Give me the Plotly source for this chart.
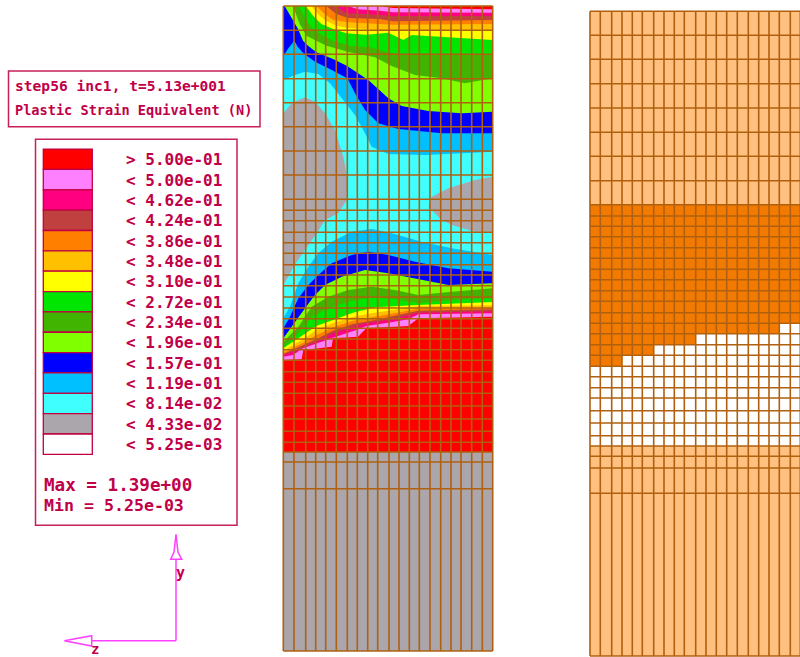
import plotly.graph_objects as go

# ---------- legend ----------
LEGEND_LABELS = ["> 5.00e-01", "< 5.00e-01", "< 4.62e-01", "< 4.24e-01", "< 3.86e-01",
                 "< 3.48e-01", "< 3.10e-01", "< 2.72e-01", "< 2.34e-01", "< 1.96e-01",
                 "< 1.57e-01", "< 1.19e-01", "< 8.14e-02", "< 4.33e-02", "< 5.25e-03"]
RED, PINK, HOT, BROWN, ORANGE, AMBER, YELLOW, GREEN, DGREEN, LIME, BLUE, SKY, CYAN, GRAY, WHITE = (
    "#ff0000", "#ff80ff", "#ff0080", "#c04040", "#ff8000", "#ffc000", "#ffff00", "#00e600",
    "#40b400", "#80ff00", "#0000ff", "#00c0ff", "#40ffff", "#aaa6ab", "#ffffff")
LEGEND_COLORS = [RED, PINK, HOT, BROWN, ORANGE, AMBER, YELLOW, GREEN, DGREEN, LIME, BLUE, SKY, CYAN, GRAY, WHITE]
TITLE_LINES = ["step56 inc1, t=5.13e+001", "Plastic Strain Equivalent (N)"]
MAX_MIN = ["Max = 1.39e+00", "Min = 5.25e-03"]
TEXT = "#c00048"
BOX = "#c8205a"
MESH = "#b0600f"
MAGENTA = "#ff40ff"

# ---------- meshes ----------
MID_X = [283.3, 294, 305.7, 315.7, 325.7, 336.3, 347.3, 357.3, 367.7, 377.7, 389, 399, 409.3, 419.3, 430,
         440.7, 451, 461, 471.7, 482.3, 492.7]
MID_Y = [6, 30.3, 54.3, 78.7, 102.7, 126.7, 151, 175, 199.3, 210.3, 220.7, 232.3, 242.7, 253.3, 264.7, 275,
         285.7, 297, 308, 318.7, 328.3, 339, 349.7, 360.3, 371.7, 382.3, 393.3, 406, 419, 431.3, 442.3, 452,
         462, 488.7, 651]
RIGHT_X = [590, 600.3, 611.7, 622, 632.3, 642.3, 653.7, 664, 674.3, 684.3, 695.7, 706, 716.3, 726.7, 737.3,
           748.3, 758.7, 769, 779.3, 790.3, 800.3]
RIGHT_Y = [11.3, 35.3, 59.3, 83.7, 108, 132.3, 156.3, 180.7, 204.7, 216, 226.3, 236.7, 247.7, 258.3, 269.3,
           279.7, 290.7, 301.3, 312.7, 323.3, 333.7, 344.7, 355.3, 366.3, 376.7, 387.7, 398, 410.7, 423, 435.7,
           446, 456.3, 468, 493.3, 656]
# right mesh: lower edge of the dark zone, as a stair outline
STAIR_X = [590, 622, 622, 653.7, 653.7, 695.7, 695.7, 779.3, 779.3, 800.3]
STAIR_Y = [366.3, 366.3, 355.3, 355.3, 344.7, 344.7, 333.7, 333.7, 323.3, 323.3]
LIGHT_ORANGE, DARK_ORANGE = "#ffc080", "#f27a00"

# ---------- contour boundaries of the middle mesh, read off two crops ----------
# upper part (crop 1): x_px = 275 + x/3, y_px = y/3
TOP_BANDS = [
    (SKY,    [(25,240),(60,225),(90,215),(130,222),(165,250),(210,305),(240,345),(270,400),(290,440),(340,462),(450,465),(653,455)]),
    (BLUE,   [(25,168),(40,145),(58,122),(68,140),(85,160),(120,185),(160,205),(217,235),(240,280),(270,330),(310,370),(370,387),(500,400),(653,400)]),
    (LIME,   [(29,18),(49,52),(69,87),(84,122),(99,137),(124,157),(174,177),(215,197),(280,240),(340,295),(380,318),(460,333),(560,340),(653,335)]),
    (DGREEN, [(54,18),(74,72),(94,107),(124,122),(154,137),(224,157),(300,172),(350,198),(420,225),(500,235),(570,250),(653,235)]),
    (GREEN,  [(72,18),(94,62),(114,87),(144,107),(174,122),(224,137),(284,142),(350,160),(450,165),(653,165)]),
    (YELLOW, [(92,18),(114,47),(139,72),(174,87),(214,100),(274,104),(340,98),(385,120),(410,105),(653,120)]),
    (AMBER,  [(109,18),(129,42),(149,60),(184,77),(219,84),(354,92),(653,92)]),
    (ORANGE, [(124,18),(149,42),(174,60),(219,67),(354,74),(653,72)]),
    (BROWN,  [(154,18),(184,42),(219,54),(314,57),(354,64),(653,60)]),
    (HOT,    [(184,18),(214,40),(274,42),(354,48),(653,48)]),
    (PINK,   [(219,18),(249,28),(314,32),(354,37),(653,38)]),
    (RED,    [(314,18),(354,24),(653,28)]),
]
GRAY_LEFT = [(25,340),(50,310),(90,292),(120,305),(150,340),(180,390),(205,470),(218,540),(215,600),(190,640),(150,660),
             (125,700),(90,750),(55,800),(40,830),(25,855)]
GRAY_RIGHT = [(653,530),(600,540),(520,565),(470,590),(460,620),(500,660),(530,675),(600,695),(653,695)]

# lower part (crop 2): x_px = 275 + x/3, y_px = 220 + y/3
LOW_BANDS = [
    (SKY,    [(25,295),(45,260),(70,190),(100,140),(130,100),(170,65),(230,35),(290,27),(350,40),(440,65),(530,85),(653,105)]),
    (BLUE,   [(25,325),(45,290),(70,235),(100,195),(130,165),(170,130),(230,105),(280,95),(340,105),(420,125),(520,145),(653,155)]),
    (LIME,   [(25,355),(60,305),(90,265),(120,225),(150,195),(200,170),(270,150),(340,160),(430,178),(520,195),(653,190)]),
    (DGREEN, [(25,365),(70,320),(110,260),(160,230),(220,210),(290,200),(360,210),(430,225),(530,215),(653,205)]),
    (GREEN,  [(25,382),(70,340),(110,290),(160,265),(220,245),(290,232),(360,238),(430,250),(530,240),(653,235)]),
    (YELLOW, [(25,385),(84,345),(124,318),(174,300),(234,278),(300,262),(360,258),(430,255),(653,246)]),
    (AMBER,  [(25,392),(84,358),(124,330),(174,310),(234,290),(300,278),(430,258),(653,256)]),
    (ORANGE, [(25,398),(84,368),(124,345),(174,322),(234,302),(300,290),(430,266),(653,264)]),
    (BROWN,  [(25,402),(84,375),(124,358),(174,332),(234,312),(300,300),(430,272),(653,268)]),
    (HOT,    [(25,405),(74,388),(124,365),(174,340),(234,320),(274,310),(354,298),(430,278),(653,274)]),
    (PINK,   [(25,410),(54,405),(84,385),(124,370),(169,355),(244,330),(274,318),(340,308),(400,298),(430,283),(653,280)]),
    (RED,    [(25,420),(80,418),(85,390),(124,385),(170,380),(174,355),(249,350),(274,325),(400,318),(430,295),(653,290)]),
]


def crop1(pts):
    return [(275 + x / 3, y / 3) for x, y in pts]


def crop2(pts):
    return [(275 + x / 3, 220 + y / 3) for x, y in pts]


fig = go.Figure()


def poly(pts, color):
    xs = [p[0] for p in pts]
    ys = [p[1] for p in pts]
    fig.add_trace(go.Scatter(x=xs, y=ys, mode="lines", fill="toself", fillcolor=color,
                             line=dict(color=color, width=0), hoverinfo="skip", showlegend=False))


def grid(xs, ys, top, bottom, left, right, width=1.6):
    lx, ly = [], []
    for x in xs:
        lx += [x, x, None]
        ly += [top, bottom, None]
    for y in ys:
        lx += [left, right, None]
        ly += [y, y, None]
    fig.add_trace(go.Scatter(x=lx, y=ly, mode="lines", line=dict(color=MESH, width=width),
                             hoverinfo="skip", showlegend=False))


L, R, T, B, BOT = MID_X[0], MID_X[-1], MID_Y[0], MID_Y[31], MID_Y[-1]
poly([(L, T), (R, T), (R, B), (L, B)], CYAN)
poly([(L, B), (R, B), (R, BOT), (L, BOT)], GRAY)
poly(crop1(GRAY_LEFT), GRAY)
poly(crop1(GRAY_RIGHT), GRAY)
for color, edge in LOW_BANDS:
    pts = crop2(edge)
    poly(pts + [(R, B), (L, B)], color)
for color, edge in TOP_BANDS:
    pts = crop1(edge)
    poly(pts + [(R, T)] + ([(L, T)] if edge[0][1] > 18 else []), color)
grid(MID_X, MID_Y, T, BOT, L, R)

# right mesh
RL, RT, RB = RIGHT_X[0], RIGHT_Y[0], RIGHT_Y[-1]
RR = RIGHT_X[-1]
poly([(RL, RT), (RR, RT), (RR, RB), (RL, RB)], LIGHT_ORANGE)
poly([(RL, RIGHT_Y[8]), (RR, RIGHT_Y[8])] + list(zip(STAIR_X[::-1], STAIR_Y[::-1])), DARK_ORANGE)
poly(list(zip(STAIR_X, STAIR_Y)) + [(RR, RIGHT_Y[30]), (RL, RIGHT_Y[30])], WHITE)
grid(RIGHT_X, RIGHT_Y, RT, RB, RL, RR)

# coordinate triad
fig.add_trace(go.Scatter(x=[176, 176, None, 176, 91.7], y=[559.3, 640.7, None, 640.7, 640.7], mode="lines",
                         line=dict(color=MAGENTA, width=1.5), hoverinfo="skip", showlegend=False))
fig.add_trace(go.Scatter(x=[176, 174, 170.7, 181.7, 178, 176], y=[534.3, 552, 559.3, 559.3, 552, 534.3], mode="lines",
                         line=dict(color=MAGENTA, width=1.5), hoverinfo="skip", showlegend=False))
fig.add_trace(go.Scatter(x=[64.3, 91.7, 91.7, 64.3], y=[640.7, 635.7, 646, 640.7], mode="lines",
                         line=dict(color=MAGENTA, width=1.5), hoverinfo="skip", showlegend=False))

shapes = [
    dict(type="rect", x0=8.5, x1=260, y0=71, y1=126.7, line=dict(color=BOX, width=1.5)),
    dict(type="rect", x0=35.5, x1=237, y0=139.3, y1=525.3, line=dict(color=BOX, width=1.5)),
]
PITCH, SW0 = 20.35, 149.1
annotations = []


def label(x, y, text, size, anchor="left"):
    annotations.append(dict(x=x, y=y, text=text, showarrow=False, xanchor=anchor, yanchor="middle",
                            xref="x", yref="y", font=dict(family="DejaVu Sans Mono", size=size, color=TEXT),
                            borderpad=0))


for i, (c, t) in enumerate(zip(LEGEND_COLORS, LEGEND_LABELS)):
    shapes.append(dict(type="rect", x0=43.3, x1=92.3, y0=SW0 + i * PITCH, y1=SW0 + (i + 1) * PITCH,
                       fillcolor=c, line=dict(color="#c00040", width=1.3)))
    label(125, SW0 + (i + 0.5) * PITCH + 0.5, "<b>" + t + "</b>", 16)

label(14, 85.5, "<b>" + TITLE_LINES[0] + "</b>", 14.6)
label(14, 110, "<b>" + TITLE_LINES[1] + "</b>", 13.6)
label(43, 484.5, "<b>" + MAX_MIN[0] + "</b>", 17.6)
label(43, 505, "<b>" + MAX_MIN[1] + "</b>", 16.6)
label(180, 572.5, "<b>y</b>", 15, "center")
label(95, 648.5, "<b>z</b>", 14, "center")

fig.update_layout(
    width=800, height=657, margin=dict(l=0, r=0, t=0, b=0), paper_bgcolor="white", plot_bgcolor="white",
    xaxis=dict(range=[0, 800], visible=False, fixedrange=True),
    yaxis=dict(range=[657, 0], visible=False, fixedrange=True),
    shapes=shapes, annotations=annotations, showlegend=False,
)
fig.write_html("out.html", config={"displayModeBar": False},
               post_script="document.body.style.margin='0';document.body.style.overflow='hidden';")
